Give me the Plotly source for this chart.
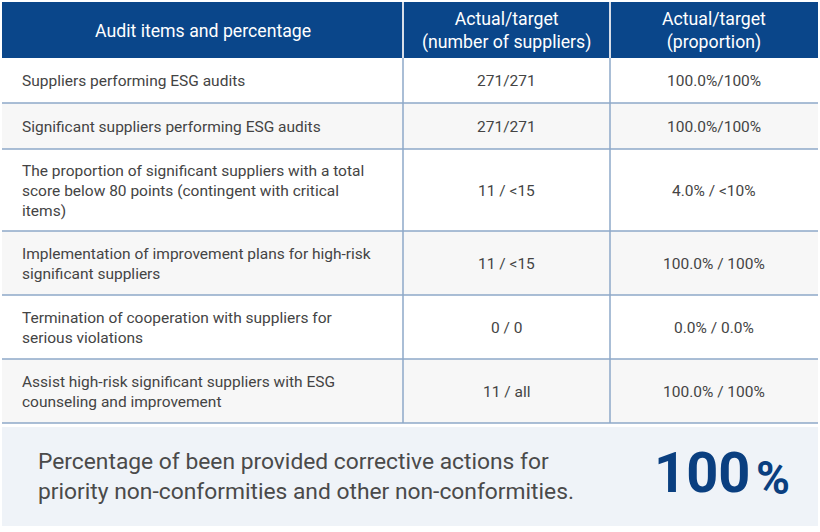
import plotly.graph_objects as go

# ---- data ----
headers = ["Audit items and percentage",
           "Actual/target<br>(number of suppliers)",
           "Actual/target<br>(proportion)"]
audit_items = [
    "Suppliers performing ESG audits",
    "Significant suppliers performing ESG audits",
    "The proportion of significant suppliers with a total<br>score below 80 points (contingent with critical<br>items)",
    "Implementation of improvement plans for high-risk<br>significant suppliers",
    "Termination of cooperation with suppliers for<br>serious violations",
    "Assist high-risk significant suppliers with ESG<br>counseling and improvement",
]
supplier_counts = ["271/271", "271/271", "11 / <15", "11 / <15", "0 / 0", "11 / all"]
proportions = ["100.0%/100%", "100.0%/100%", "4.0% / <10%", "100.0% / 100%", "0.0% / 0.0%", "100.0% / 100%"]
summary_text = "Percentage of been provided corrective actions for<br>priority non-conformities and other non-conformities."
summary_value = "100"
summary_unit = "%"

# ---- layout geometry (pixels) ----
W, H = 820, 532
col_edges = [2, 403, 610, 818]
header_top, header_bottom = 2, 58
row_edges = [58, 103, 149, 231, 295, 359, 423]
panel_top, panel_bottom = 427, 526

HEADER_BG = "#0a468a"
BORDER = "#8ea8c8"
ALT_BG = "#f7f7f7"
TEXT = "#444444"
PANEL_BG = "#eff3f8"
NAVY = "#0a3f80"
FONT = "Roboto"

shapes = []
annotations = []

# header
shapes.append(dict(type="rect", x0=col_edges[0], x1=col_edges[-1], y0=header_top, y1=header_bottom,
                   fillcolor=HEADER_BG, line=dict(width=0), layer="below"))
for xe in col_edges[1:-1]:
    shapes.append(dict(type="line", x0=xe, x1=xe, y0=header_top, y1=header_bottom,
                       line=dict(color="#d8dee8", width=2)))
for i, h in enumerate(headers):
    annotations.append(dict(x=(col_edges[i] + col_edges[i + 1]) / 2, y=(header_top + header_bottom) / 2 + 1,
                            text=h, showarrow=False, xanchor="center", yanchor="middle",
                            font=dict(family=FONT, size=17.7, color="white")))

# body rows
for r in range(len(audit_items)):
    y0, y1 = row_edges[r], row_edges[r + 1]
    if r % 2 == 1:
        shapes.append(dict(type="rect", x0=col_edges[0], x1=col_edges[-1], y0=y0, y1=y1,
                           fillcolor=ALT_BG, line=dict(width=0), layer="below"))
    ym = (y0 + y1) / 2 + 0.5
    annotations.append(dict(x=20, y=ym, text=audit_items[r], showarrow=False, xanchor="left",
                            yanchor="middle", align="left",
                            font=dict(family=FONT, size=15.5, color=TEXT)))
    annotations.append(dict(x=(col_edges[1] + col_edges[2]) / 2, y=ym, text=supplier_counts[r],
                            showarrow=False, xanchor="center", yanchor="middle",
                            font=dict(family=FONT, size=15.5, color=TEXT)))
    annotations.append(dict(x=(col_edges[2] + col_edges[3]) / 2, y=ym, text=proportions[r],
                            showarrow=False, xanchor="center", yanchor="middle",
                            font=dict(family=FONT, size=15.5, color=TEXT)))

for ye in row_edges[1:]:
    shapes.append(dict(type="line", x0=col_edges[0], x1=col_edges[-1], y0=ye, y1=ye,
                       line=dict(color=BORDER, width=1.5)))
for xe in col_edges[1:-1]:
    shapes.append(dict(type="line", x0=xe, x1=xe, y0=row_edges[0], y1=row_edges[-1],
                       line=dict(color=BORDER, width=1.5)))

# summary panel
shapes.append(dict(type="rect", x0=col_edges[0], x1=col_edges[-1], y0=panel_top, y1=panel_bottom,
                   fillcolor=PANEL_BG, line=dict(width=0), layer="below"))
pm = (panel_top + panel_bottom) / 2
annotations.append(dict(x=36, y=pm, text=summary_text, showarrow=False, xanchor="left", yanchor="middle",
                        align="left", font=dict(family=FONT, size=22.8, color="#4a4a4a")))
annotations.append(dict(x=752, y=pm + 31, text="<b>" + summary_value + "</b>", showarrow=False,
                        xanchor="right", yanchor="bottom",
                        font=dict(family=FONT, size=56, color=NAVY)))
annotations.append(dict(x=754, y=pm + 30, text="<b>" + summary_unit + "</b>", showarrow=False,
                        xanchor="left", yanchor="bottom",
                        font=dict(family=FONT, size=46, color=NAVY)))

fig = go.Figure()
fig.update_layout(
    width=W, height=H, margin=dict(l=0, r=0, t=0, b=0),
    paper_bgcolor="white", plot_bgcolor="white",
    xaxis=dict(range=[0, W], visible=False, fixedrange=True),
    yaxis=dict(range=[H, 0], visible=False, fixedrange=True),
    shapes=shapes, annotations=annotations, showlegend=False,
)
fig.write_html("out.html", config=dict(displayModeBar=False),
               post_script="document.body.style.margin='0';document.body.style.overflow='hidden';")
